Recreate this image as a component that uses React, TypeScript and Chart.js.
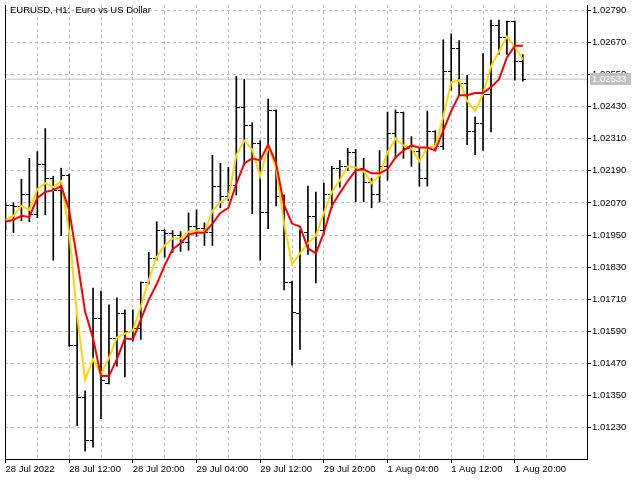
import React, { useEffect, useRef } from "react";
import { Chart, registerables } from "chart.js";

Chart.register(...registerables);

const chartTitle = "EURUSD, H1:  Euro vs US Dollar";
const xTickLabels = [
  "28 Jul 2022", "28 Jul 12:00", "28 Jul 20:00", "29 Jul 04:00", "29 Jul 12:00",
  "29 Jul 20:00", "1 Aug 04:00", "1 Aug 12:00", "1 Aug 20:00",
];
const barsPerLabel = 8;
const barsPerGrid = 4;
const yTickValues = [
  1.0123, 1.0135, 1.0147, 1.0159, 1.0171, 1.0183, 1.0195,
  1.0207, 1.0219, 1.0231, 1.0243, 1.0255, 1.0267, 1.0279,
];
const yMin = 1.01113;
const yMax = 1.0281;
const currentPrice = 1.02533;

const opens = [
  1.02022, 1.02059, 1.02055, 1.021, 1.02026, 1.02214, 1.02163, 1.02118, 1.02174, 1.01538,
  1.01342, 1.01183, 1.01638, 1.01397, 1.01564, 1.01656, 1.0159, 1.01601, 1.01771, 1.01863,
  1.01967, 1.01956, 1.01948, 1.01922, 1.01982, 1.01974, 1.01959, 1.02133, 1.02096, 1.02137,
  1.02425, 1.02359, 1.02292, 1.02033, 1.02414, 1.02096, 1.01774, 1.01656, 1.01959, 1.02018,
  1.01967, 1.021, 1.022, 1.02207, 1.02259, 1.022, 1.02148, 1.021, 1.02207, 1.02329,
  1.02407, 1.02274, 1.02262, 1.02163, 1.02336, 1.02281, 1.02562, 1.02647, 1.02518, 1.02336,
  1.02366, 1.02477, 1.02732, 1.02688, 1.02747, 1.02599,
];
const highs = [
  1.0207, 1.0207, 1.02159, 1.02237, 1.02262, 1.02348, 1.0217, 1.022, 1.02178, 1.01656,
  1.01368, 1.01752, 1.01741, 1.01689, 1.01715, 1.01671, 1.01671, 1.01775, 1.01885, 1.02,
  1.0197, 1.01967, 1.01963, 1.02033, 1.02044, 1.01996, 1.02248, 1.02218, 1.02203, 1.02543,
  1.02532, 1.0237, 1.02303, 1.02458, 1.02418, 1.021, 1.01778, 1.0197, 1.02133, 1.02111,
  1.02144, 1.02207, 1.02229, 1.02274, 1.0227, 1.02237, 1.02163, 1.02266, 1.0241, 1.02418,
  1.0241, 1.02318, 1.02277, 1.02414, 1.0234, 1.0268, 1.02702, 1.02677, 1.02547, 1.02392,
  1.02628, 1.02754, 1.02754, 1.0275, 1.0275, 1.02625,
];
const lows = [
  1.01967, 1.01959, 1.02004, 1.02, 1.02015, 1.02026, 1.01856, 1.01948, 1.01534, 1.01238,
  1.01142, 1.01157, 1.01264, 1.01394, 1.0146, 1.0142, 1.01553, 1.0156, 1.01767, 1.01856,
  1.01867, 1.01885, 1.01889, 1.01893, 1.01945, 1.01911, 1.01911, 1.02052, 1.02078, 1.021,
  1.02211, 1.0203, 1.01856, 1.01974, 1.02059, 1.01745, 1.01464, 1.01523, 1.01878, 1.01771,
  1.01952, 1.02052, 1.02129, 1.02192, 1.02074, 1.02074, 1.02052, 1.02074, 1.02155, 1.02237,
  1.02237, 1.02207, 1.02133, 1.02133, 1.02266, 1.0227, 1.02492, 1.02473, 1.02288, 1.02251,
  1.02266, 1.02336, 1.02625, 1.02625, 1.02529, 1.02525,
];
const closes = [
  1.02059, 1.02055, 1.021, 1.02026, 1.02214, 1.02163, 1.02118, 1.02174, 1.01538, 1.01342,
  1.01183, 1.01638, 1.01405, 1.01564, 1.01656, 1.0159, 1.01601, 1.01771, 1.01863, 1.01967,
  1.01956, 1.01948, 1.01922, 1.01982, 1.01974, 1.01959, 1.02133, 1.02096, 1.02137, 1.02425,
  1.02359, 1.02292, 1.02033, 1.02414, 1.02096, 1.01774, 1.0166, 1.01959, 1.02018, 1.01967,
  1.021, 1.022, 1.02207, 1.02259, 1.022, 1.02148, 1.021, 1.02207, 1.02329, 1.02407,
  1.02274, 1.02262, 1.02163, 1.02336, 1.02281, 1.02562, 1.02647, 1.02518, 1.02336, 1.02366,
  1.02477, 1.02732, 1.02688, 1.02747, 1.02599, 1.02533,
];
const yellowLine = [
  1.02007, 1.02022, 1.02059, 1.02044, 1.02122, 1.02144, 1.02129, 1.02152, 1.01959, 1.01652,
  1.01408, 1.01486, 1.01431, 1.0149, 1.01567, 1.01582, 1.01593, 1.01682, 1.01782, 1.01867,
  1.01911, 1.01937, 1.01937, 1.01963, 1.01967, 1.01959, 1.02041, 1.02074, 1.02089, 1.02248,
  1.02303, 1.0227, 1.0217, 1.02281, 1.022, 1.01993, 1.01841, 1.01882, 1.01919, 1.01948,
  1.02033, 1.02111, 1.02155, 1.02207, 1.02203, 1.02189, 1.02144, 1.02174, 1.02259, 1.02311,
  1.02285, 1.02274, 1.02226, 1.02277, 1.02281, 1.02392, 1.02521, 1.02529, 1.02451, 1.02414,
  1.02477, 1.0258, 1.02636, 1.02691, 1.02654, 1.02606,
];
const redLine = [
  1.02, 1.02007, 1.02022, 1.02018, 1.02089, 1.02111, 1.02118, 1.02133, 1.02044, 1.0186,
  1.01664, 1.01564, 1.01423, 1.01423, 1.01486, 1.01564, 1.0156, 1.01634, 1.01708, 1.01767,
  1.01837, 1.01897, 1.01919, 1.01952, 1.01959, 1.01959, 1.01993, 1.02033, 1.02052, 1.02141,
  1.02218, 1.02237, 1.02229, 1.02288, 1.02218, 1.02063, 1.01993, 1.01982, 1.019, 1.01882,
  1.01959, 1.02059, 1.02107, 1.02152, 1.02192, 1.02196, 1.02181, 1.02181, 1.02196, 1.0224,
  1.02266, 1.02285, 1.02277, 1.02277, 1.02266, 1.0234, 1.02414, 1.02473, 1.02473, 1.02481,
  1.02481, 1.02503, 1.02532, 1.02614, 1.02658, 1.02658,
];
const xMin = -0.0625;
const xMax = 73.0625;
const xGridCount = 19;

const FONT = "Liberation Sans";
const FONT_SIZE = 9.5;
const GRID = "#c0c0c0";

function tickImage(from: number, to: number) {
  const c = document.createElement("canvas");
  c.width = 7;
  c.height = 1;
  const g = c.getContext("2d")!;
  g.fillStyle = "#000";
  g.fillRect(from, 0, to - from, 1);
  return c;
}

export default function App() {
  const ref = useRef<HTMLCanvasElement>(null);

  useEffect(() => {
    document.body.style.margin = "0";
    const canvas = ref.current!;
    const idx = closes.map((_, i) => i);
    const openTick = tickImage(0, 3);
    const closeTick = tickImage(4, 7);
    const gridSteps = Array.from({ length: xGridCount }, (_, k) => k * barsPerGrid);

    const overlay = {
      id: "overlay",
      beforeDatasetsDraw(chart: any) {
        chart.ctx.imageSmoothingEnabled = false;
      },
      afterDraw(chart: any) {
        const ctx = chart.ctx as CanvasRenderingContext2D;
        const area = chart.chartArea;
        const y = chart.scales.y.getPixelForValue(currentPrice);
        ctx.save();
        ctx.fillStyle = GRID;
        ctx.fillRect(area.right + 3, Math.round(y) - 6, 41, 12);
        ctx.fillStyle = "#ffffff";
        ctx.font = `${FONT_SIZE}px "${FONT}"`;
        ctx.textBaseline = "middle";
        ctx.textAlign = "left";
        ctx.fillText(currentPrice.toFixed(5), area.right + 5, y);
        ctx.fillStyle = "#000";
        ctx.textBaseline = "alphabetic";
        ctx.fillText(chartTitle, area.left + 5, 13);
        ctx.restore();
      },
    };

    const chart = new Chart(canvas, {
      type: "line",
      data: {
        datasets: [
          {
            type: "line",
            data: idx.map((i) => ({ x: i, y: redLine[i] })),
            borderColor: "#ff0000",
            borderWidth: 2,
            pointRadius: 0,
            tension: 0,
            order: 0,
            xAxisID: "x",
            yAxisID: "y",
          },
          {
            type: "line",
            data: idx.map((i) => ({ x: i, y: yellowLine[i] })),
            borderColor: "#ffd700",
            borderWidth: 2,
            pointRadius: 0,
            tension: 0,
            order: 1,
            xAxisID: "x",
            yAxisID: "y",
          },
          {
            type: "line",
            data: idx.map((i) => ({ x: i, y: closes[i] })),
            showLine: false,
            pointStyle: closeTick as any,
            pointRadius: 3,
            order: 2,
            xAxisID: "x",
            yAxisID: "y",
          },
          {
            type: "line",
            data: idx.map((i) => ({ x: i, y: opens[i] })),
            showLine: false,
            pointStyle: openTick as any,
            pointRadius: 3,
            order: 3,
            xAxisID: "x",
            yAxisID: "y",
          },
          {
            type: "bar",
            data: idx.map((i) => ({ x: i, y: [lows[i], highs[i]] })) as any,
            backgroundColor: "#000",
            borderWidth: 0,
            barThickness: 1,
            grouped: false,
            order: 4,
            xAxisID: "x",
            yAxisID: "y",
          } as any,
          {
            type: "line",
            data: [
              { x: xMin, y: currentPrice },
              { x: xMax, y: currentPrice },
            ],
            borderColor: GRID,
            borderWidth: 1,
            pointRadius: 0,
            order: 5,
            xAxisID: "x",
            yAxisID: "y",
          },
        ],
      },
      options: {
        responsive: false,
        animation: false,
        devicePixelRatio: 1,
        events: [],
        layout: { padding: 0 },
        plugins: { legend: { display: false }, tooltip: { enabled: false }, title: { display: false } },
        scales: {
          x: {
            type: "linear",
            position: "bottom",
            min: xMin,
            max: xMax,
            offset: false,
            afterBuildTicks: (s: any) => {
              s.ticks = gridSteps.map((v) => ({ value: v }));
            },
            afterFit: (s: any) => {
              s.height = 21;
              s.paddingLeft = 0;
              s.paddingRight = 0;
            },
            ticks: {
              autoSkip: false,
              maxRotation: 0,
              minRotation: 0,
              align: "start",
              padding: 1,
              color: "#000",
              font: { family: FONT, size: FONT_SIZE },
              callback: (v: any) => (Number(v) % barsPerLabel === 0 ? xTickLabels[Number(v) / barsPerLabel] : ""),
            },
            grid: {
              offset: false,
              lineWidth: 1,
              color: (c: any) => (c.tick && c.tick.value === 0 ? "rgba(0,0,0,0)" : GRID),
              tickLength: 4,
              tickColor: (c: any) => (c.tick && c.tick.value % barsPerLabel === 0 ? "#000" : "rgba(0,0,0,0)"),
            },
            border: { display: true, color: "#000", width: 1, dash: [3, 3] },
          } as any,
          y: {
            type: "linear",
            position: "right",
            min: yMin,
            max: yMax,
            afterBuildTicks: (s: any) => {
              s.ticks = yTickValues.map((v) => ({ value: v }));
            },
            afterFit: (s: any) => {
              s.width = 53;
              s.paddingTop = 0;
              s.paddingBottom = 0;
            },
            ticks: {
              padding: 1,
              color: "#000",
              font: { family: FONT, size: FONT_SIZE },
              callback: (v: any) => Number(v).toFixed(5),
            },
            grid: { color: GRID, lineWidth: 1, tickLength: 4, tickColor: "#000" },
            border: { display: true, color: "#000", width: 1, dash: [3, 3] },
          } as any,
          yl: {
            type: "linear",
            position: "left",
            min: yMin,
            max: yMax,
            afterFit: (s: any) => {
              s.width = 2;
              s.paddingTop = 0;
              s.paddingBottom = 0;
            },
            ticks: { display: false },
            grid: { display: false, drawTicks: false },
            border: { display: true, color: "#000", width: 1 },
          } as any,
        },
      },
      plugins: [overlay],
    });

    return () => chart.destroy();
  }, []);

  return (
    <div style={{ width: 640, height: 480 }}>
      <canvas ref={ref} width={640} height={480} style={{ display: "block" }} />
    </div>
  );
}
